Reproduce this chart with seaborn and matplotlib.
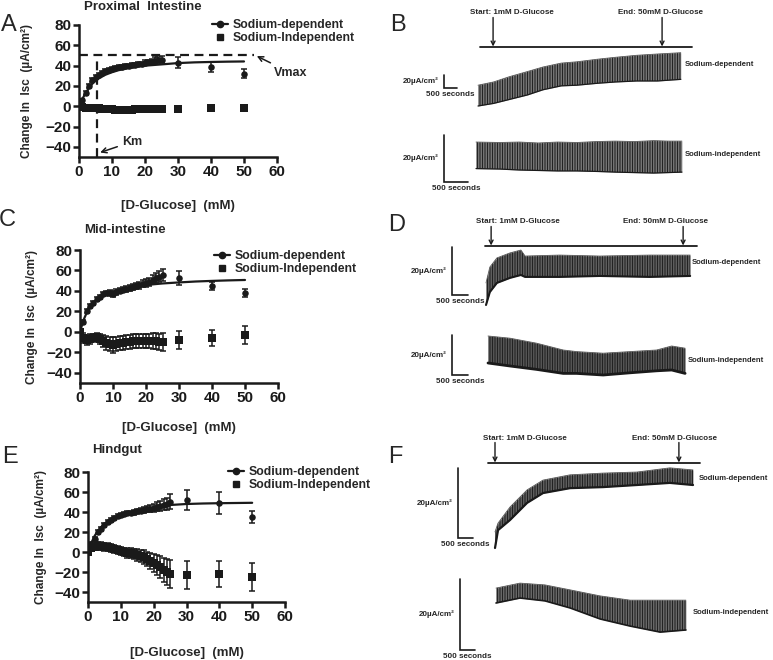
import numpy as np
import pandas as pd
import matplotlib.pyplot as plt
import seaborn as sns
from matplotlib.lines import Line2D

W, H = 773, 660

# ---------------- glucose concentration-response data ----------------
glucose = list(range(26)) + [30, 40, 50]
fit_x = [0, 1, 2, 3, 4, 5, 6, 8, 10, 12, 15, 18, 21, 25, 30, 35, 40, 45, 50]

# proximal intestine
prox_dep = [0, 6, 13, 20, 26, 29, 31, 33, 34.5, 35.5, 36.5, 37.5, 38.5, 39, 39.5, 40,
            40.5, 41, 41.5, 42, 43, 43.5, 44, 45, 45.5, 46, 43, 39, 32]
prox_dep_err = [0.5, 1.5, 2, 2, 2, 2, 2, 2, 2, 2, 2, 2, 2, 2, 2, 2, 2, 2, 2, 2,
                2.5, 2.5, 2.5, 3, 3, 3.5, 5, 5, 4.5]
prox_ind = [0, -1, -1.5, -2, -2, -1.5, -2, -2.5, -3, -3, -3, -3.5, -3.5, -3.5, -3.5, -3.5,
            -3.5, -3, -3, -3, -3, -3, -3, -3, -3, -3, -3, -2, -2]
prox_ind_err = [0.5] + [1] * 28
prox_fit = [0, 7, 13, 18, 22, 25, 27.5, 31, 33.5, 35.5, 37.5, 39, 40.2, 41.2, 42.5, 43.2,
            43.6, 43.9, 44.1]
prox_vmax = 50
prox_km = 5.5

# mid-intestine
mid_dep = [0, 10, 20, 25, 28, 32, 34, 37, 38, 38, 37, 39, 40, 41, 42, 43, 43.5, 44.5,
           45.5, 47, 48, 49, 51, 52.5, 54, 55.5, 52.5, 45, 38]
mid_dep_err = [1, 2, 2, 2, 2, 2, 2, 2, 2, 2.5, 2.5, 2.5, 2.5, 2.5, 3, 3, 3, 3, 3.5, 3.5,
               4, 4, 4.5, 5, 5, 6, 7, 4, 4]
mid_ind = [0, -6, -8, -7, -6, -5, -7, -9, -11, -12, -13, -12, -11, -11, -10, -10, -9, -9,
           -9, -9, -9, -9, -9, -9, -10, -10, -8, -6, -3]
mid_ind_err = [1, 5, 5, 5, 4, 4, 5, 6, 7, 7, 8, 7, 7, 7, 7, 7, 7, 7, 7, 7, 7, 7, 8, 8, 8,
               9, 9, 8, 9]
mid_fit = [0, 11, 18.5, 24, 28, 31, 33, 37, 39.3, 41.3, 43.4, 45, 46.1, 47.3, 48.3, 49.2,
           49.8, 50.3, 50.7]

# hindgut
hind_dep = [0, 8, 13, 20, 23, 27, 30, 32, 34, 36, 37, 38, 39, 39.5, 40, 41, 41.5, 42, 43,
            43.5, 44.5, 45.5, 46.5, 47.5, 48.5, 50.5, 52, 49, 35.5]
hind_dep_err = [1, 2, 2, 2, 2, 2, 2, 2, 2, 2, 2, 2, 2, 2, 2.5, 2.5, 2.5, 3, 3, 3.5, 4, 4.5,
                5, 5.5, 6, 7.5, 10, 11, 6]
hind_ind = [0, 4, 5, 6, 6, 5.5, 5, 4, 3, 2, 1, 0, -0.5, -1, -2, -3, -4, -5, -7, -9, -11,
            -13, -15, -18, -20, -22, -23, -22, -25]
hind_ind_err = [1, 3, 3, 4, 4, 4, 4, 4, 4, 4, 4, 4, 5, 5, 5, 6, 6, 7, 7, 8, 9, 10, 11, 12,
                13, 14, 14, 13, 14]
hind_fit = [0, 9, 16, 21, 25, 28, 31, 34.5, 37, 39, 41.5, 43.5, 45.5, 47, 48, 48.5, 48.8,
            49, 49.2]

# ---------------- Isc recordings (time s, envelope µA/cm2) ----------------
b_dep_t = [0, 600, 1200, 1900, 2500, 3200, 3800, 4600, 5300, 6100, 6900, 7800]
b_dep_lo = [0, 4, 10, 17, 25, 31, 32, 35, 37, 38.5, 38.5, 41]
b_dep_hi = [32, 37, 45, 53, 60, 66, 68, 72, 75, 78, 80, 82]
b_ind_t = [0, 500, 900, 1300, 1700, 2100, 2500, 2900, 3300, 3700, 4000, 4290]
b_ind_lo = [0.6, 0.4, 0, -0.2, -0.4, -0.4, -0.6, -0.9, -1.1, -1.3, -1.1, -0.9]
b_ind_hi = [11.9, 11.7, 11.9, 11.5, 11.9, 11.7, 12.1, 12.3, 12.1, 12.5, 12.3, 12.3]

d_dep_t = [0, 120, 340, 750, 1090, 1220, 2300, 3560, 5120, 6380]
d_dep_lo = [0, 5.4, 9.2, 11.3, 12.5, 11.7, 11.7, 12.1, 11.7, 12.1]
d_dep_hi = [9.2, 15.8, 19.6, 21.7, 22.9, 20.4, 20.8, 20.4, 20.8, 20.8]
d_ind_t = [0, 690, 1520, 2350, 2770, 3600, 4440, 5270, 5740, 6160]
d_ind_lo = [0, -1.5, -3.2, -5.2, -5.2, -6, -4.9, -3.9, -3.5, -5.2]
d_ind_hi = [13.5, 12.4, 9.9, 6.5, 5.7, 4.9, 5.7, 6.5, 8.5, 7.4]

f_dep_t = [0, 100, 500, 1070, 1600, 2500, 3600, 4730, 5830, 6600]
f_dep_lo = [0, 5.1, 8.0, 12.9, 15.7, 17.1, 17.4, 18.0, 18.6, 18.0]
f_dep_hi = [4.6, 7.1, 11.7, 16.6, 19.4, 20.9, 21.4, 21.7, 22.9, 22.3]
f_ind_t = [0, 800, 1630, 2470, 3470, 4470, 5470, 6330]
f_ind_lo = [0, 1.4, 0.6, -1.4, -4.5, -6.5, -8.2, -7.6]
f_ind_hi = [4.2, 5.6, 5.1, 3.7, 2.0, 0.8, 0.8, 0.8]

# glucose addition times (s) in each recording
b_events = [580, 7080]
d_events = [160, 6160]
f_events = [0, 6130]

sns.set_theme(style='ticks')
plt.rcParams['font.family'] = ['Liberation Sans', 'DejaVu Sans']
plt.rcParams['hatch.linewidth'] = 0.7
plt.rcParams['hatch.color'] = '#202020'

fig = plt.figure(figsize=(W / 100, H / 100), dpi=100)


def fx(px):
    return px / W


def fy(py):
    return 1 - py / H


def conc_panel(box, dep, dep_err, ind, ind_err, fit, leg_px, ylab_x, xlab_y):
    left, top, right, bottom = box
    ax = fig.add_axes([fx(left), fy(bottom), (right - left) / W, (bottom - top) / H])
    df = pd.DataFrame({'glc': glucose, 'dep': dep, 'dep_err': dep_err,
                       'ind': ind, 'ind_err': ind_err})
    sns.lineplot(x=fit_x, y=fit, ax=ax, color='k', lw=1.6)
    ax.errorbar(df.glc, df.dep, yerr=df.dep_err, fmt='none', ecolor='k',
                elinewidth=1.1, capsize=2.2, capthick=1.1)
    ax.errorbar(df.glc, df.ind, yerr=df.ind_err, fmt='none', ecolor='k',
                elinewidth=1.1, capsize=2.2, capthick=1.1)
    sns.scatterplot(data=df, x='glc', y='dep', marker='o', s=22, color='k',
                    linewidth=0, ax=ax)
    sns.scatterplot(data=df, x='glc', y='ind', marker='s', s=26, color='k',
                    linewidth=0, ax=ax)
    ax.set_xlim(0, 60)
    ax.set_ylim(-50, 80)
    ax.set_xticks(range(0, 61, 10))
    ax.set_yticks(range(-40, 81, 20))
    sns.despine(ax=ax)
    for s in ['left', 'bottom']:
        ax.spines[s].set_linewidth(1.8)
        ax.spines[s].set_color('k')
    ax.tick_params(width=1.8, length=4, labelsize=11, pad=1.5, colors='k')
    for lbl in ax.get_xticklabels() + ax.get_yticklabels():
        lbl.set_fontweight('bold')
    ax.set_ylabel('Change In  Isc  (µA/cm²)', fontsize=8.5, fontweight='bold')
    ax.set_xlabel('[D-Glucose]  (mM)', fontsize=9.5, fontweight='bold')
    ax.yaxis.set_label_coords((ylab_x - left) / (right - left), 0.5)
    ax.xaxis.set_label_coords(0.5, -(xlab_y - bottom) / (bottom - top))
    handles = [Line2D([], [], color='k', marker='o', ms=4.5, lw=1.6),
               Line2D([], [], color='k', marker='s', ms=5, ls='none')]
    ax.legend(handles, ['Sodium-dependent', 'Sodium-Independent'], frameon=False,
              loc='upper left',
              bbox_to_anchor=((leg_px[0] - left) / (right - left),
                              (bottom - leg_px[1]) / (bottom - top)),
              borderpad=0, borderaxespad=0, handlelength=1.3, handletextpad=0.4,
              labelspacing=0.1, prop={'weight': 'bold', 'size': 8.8})
    return ax


ax_a = conc_panel((79, 25, 277, 157), prox_dep, prox_dep_err, prox_ind, prox_ind_err,
                  prox_fit, (212, 19), 33, 200)
ax_c = conc_panel((80, 250, 278, 383), mid_dep, mid_dep_err, mid_ind, mid_ind_err,
                  mid_fit, (214, 250), 38, 422)
ax_e = conc_panel((88, 472, 285, 602), hind_dep, hind_dep_err, hind_ind, hind_ind_err,
                  hind_fit, (228, 466), 47, 647)

# Vmax / Km guides on the proximal panel
ax_a.plot([0, 53], [prox_vmax, prox_vmax], color='k', lw=1.6, ls=(0, (4, 2.5)))
ax_a.plot([prox_km, prox_km], [-50, prox_vmax], color='k', lw=1.6, ls=(0, (4, 2.5)))
ax_a.annotate('Vmax', xy=(53.5, prox_vmax), xytext=(59, 33), ha='left', va='center',
              fontsize=9, fontweight='bold', annotation_clip=False,
              arrowprops=dict(arrowstyle='->', color='k', lw=1.1, shrinkA=1, shrinkB=1))
ax_a.annotate('Km', xy=(prox_km + 0.5, -46), xytext=(13, -35), ha='left', va='center',
              fontsize=9, fontweight='bold',
              arrowprops=dict(arrowstyle='->', color='k', lw=1.1, shrinkA=1, shrinkB=1))

# titles and panel letters
fig.text(fx(143), fy(7), 'Proximal  Intestine', ha='center', va='center',
         fontsize=9.5, fontweight='bold')
fig.text(fx(125), fy(230), 'Mid-intestine', ha='center', va='center',
         fontsize=9.5, fontweight='bold')
fig.text(fx(117), fy(450), 'Hindgut', ha='center', va='center',
         fontsize=9.5, fontweight='bold')
for letter, (px, py) in zip('ABCDEF', [(9, 25), (398, 25), (7, 220), (397, 225),
                                       (10, 457), (395, 457)]):
    fig.text(fx(px), fy(py), letter, ha='center', va='center', fontsize=17)


# ---------------- recordings ----------------
def trace_axes(origin, bar_px):
    # origin: figure px of t=0, I=0; bar_px: px length of 500 s and 20 µA/cm2
    ox, oy = origin
    kx = bar_px[0] / 500.0
    ky = bar_px[1] / 20.0
    ax = fig.add_axes([0, 0, 1, 1])
    ax.set_axis_off()
    ax.patch.set_alpha(0)
    return ax, (-ox / kx, (W - ox) / kx), (-(H - oy) / ky, oy / ky), (ox, oy, kx, ky)


def draw_trace(origin, bar_px, bar_corner, t, lo, hi, edge_lw, face):
    ax, xl, yl, (ox, oy, kx, ky) = trace_axes(origin, bar_px)
    ax.fill_between(t, lo, hi, color=face, linewidth=0)
    ax.fill_between(t, lo, hi, facecolor='none', edgecolor='#202020',
                    hatch='||||||||||', linewidth=0)
    sns.lineplot(x=t, y=hi, ax=ax, color='#5a5a5a', lw=0.6)
    sns.lineplot(x=t, y=lo, ax=ax, color='k', lw=edge_lw)
    t0 = (bar_corner[0] - ox) / kx
    i0 = (oy - bar_corner[1]) / ky
    ax.plot([t0, t0, t0 + 500], [i0 + 20, i0, i0], color='k', lw=1.2,
            solid_joinstyle='miter')
    ax.annotate('20µA/cm²', xy=(t0, i0 + 10), xytext=(-4, 0), textcoords='offset points',
                ha='right', va='center', fontsize=5.8, fontweight='bold')
    ax.annotate('500 seconds', xy=(t0 + 250, i0), xytext=(0, -2),
                textcoords='offset points', ha='center', va='top', fontsize=5.8,
                fontweight='bold')
    ax.set_xlim(*xl)
    ax.set_ylim(*yl)
    return ax, (ox, oy, kx, ky)


def stim_bar(ax, geo, events, line_px, tail_px, lab_dx):
    ox, oy, kx, ky = geo
    x0, x1, py = line_px
    lvl = (oy - py) / ky
    ax.plot([(x0 - ox) / kx, (x1 - ox) / kx], [lvl, lvl], color='k', lw=1.3)
    for ev, lab, dx in zip(events, ['Start: 1mM D-Glucose', 'End: 50mM D-Glucose'], lab_dx):
        ax.annotate('', xy=(ev, lvl + 0.5 / ky), xytext=(0, tail_px * 0.72),
                    textcoords='offset points',
                    arrowprops=dict(arrowstyle='->', color='k', lw=1, shrinkA=0,
                                    shrinkB=0, mutation_scale=7))
        ax.annotate(lab, xy=(ev, lvl), xytext=(dx * 0.72, (tail_px + 5) * 0.72),
                    textcoords='offset points', ha='center', va='center',
                    fontsize=5.8, fontweight='bold')


ax_b1, g_b1 = draw_trace((478, 106), (13, 13), (444, 88), b_dep_t, b_dep_lo, b_dep_hi,
                         0.9, '#9c9c9c')
draw_trace((476, 170), (24, 47), (444, 182), b_ind_t, b_ind_lo, b_ind_hi, 0.9, '#9c9c9c')
stim_bar(ax_b1, g_b1, b_events, (480, 692, 47), 29, (19, -2))

ax_d1, g_d1 = draw_trace((486, 305), (16, 48), (452, 295), d_dep_t, d_dep_lo, d_dep_hi,
                         1.5, '#7a7a7a')
draw_trace((488, 363), (16, 40), (452, 375), d_ind_t, d_ind_lo, d_ind_hi, 2.0, '#6e6e6e')
stim_bar(ax_d1, g_d1, d_events, (485, 697, 246), 19, (27, -18))

ax_f1, g_f1 = draw_trace((495, 548), (15, 70), (458, 538), f_dep_t, f_dep_lo, f_dep_hi,
                         1.6, '#7a7a7a')
draw_trace((496, 603), (15, 71), (460, 650), f_ind_t, f_ind_lo, f_ind_hi, 1.2, '#8a8a8a')
stim_bar(ax_f1, g_f1, f_events, (488, 700, 463), 20, (30, -4))

for (px, py), lab in zip([(685, 65), (685, 155), (692, 263), (688, 360), (699, 479),
                          (693, 613)],
                         ['Sodium-dependent', 'Sodium-independent'] * 3):
    fig.text(fx(px), fy(py), lab, ha='left', va='center', fontsize=5.5, fontweight='bold')

fig.savefig('out.png', dpi=100)
